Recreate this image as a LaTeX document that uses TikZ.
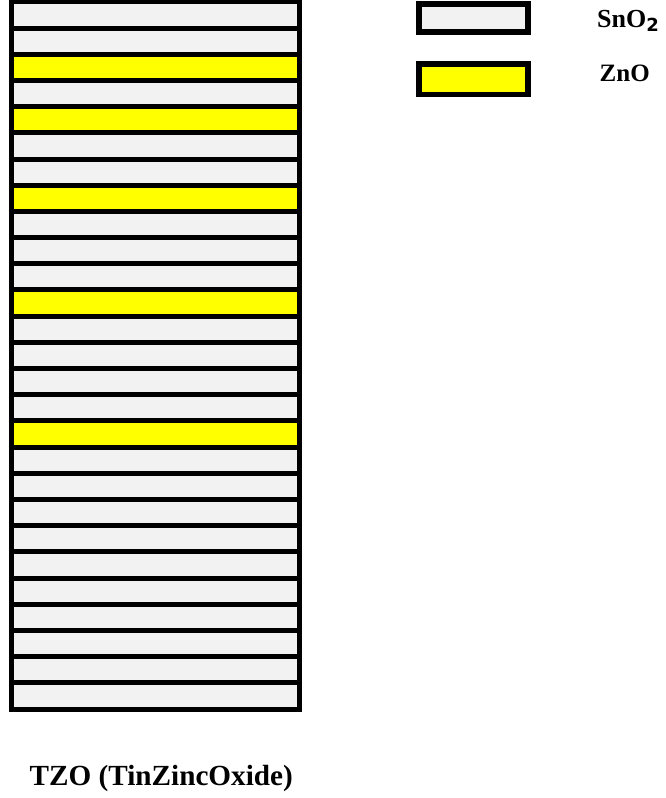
\documentclass[tikz,border=0pt]{standalone}
\usepackage{fontspec}
\setmainfont{Liberation Serif}
\newfontfamily\subfont{DejaVu Sans}
\usepackage{tikz}
\usetikzlibrary{positioning}
\definecolor{snogray}{RGB}{242,242,242}
\definecolor{znoyellow}{RGB}{255,255,0}
\tikzset{
  layer/.style = {rectangle, draw=black, line width=5pt, inner sep=0pt, outer sep=0pt, minimum width=287.6pt, minimum height=26.19pt},
  key/.style   = {rectangle, draw=black, line width=5.5pt, inner sep=0pt, outer sep=0pt, minimum width=109pt},
  lbl/.style   = {inner sep=0pt, anchor=base west, font=\bfseries\fontsize{25}{30}\selectfont},
}
\begin{document}
\begin{tikzpicture}[x=1pt,y=-1pt]
  \useasboundingbox (0,0) rectangle (666,798);
  % the stack, top to bottom
  \node[layer, fill=snogray] (L1) at (155.5,15) {};
  \foreach \i in {2,...,27}{
    \pgfmathtruncatemacro{\p}{\i-1}
    \pgfmathtruncatemacro{\isz}{(\i==3)||(\i==5)||(\i==8)||(\i==12)||(\i==17)}
    \ifnum\isz=1 \def\c{znoyellow}\else\def\c{snogray}\fi
    \node[layer, fill=\c, below=0pt of L\p] (L\i) {};
  }
  % legend
  \node[key, fill=snogray, minimum height=28.3pt] (kSno) at (473.5,17.9) {};
  \node[key, fill=znoyellow, minimum height=30.5pt] (kZno) at (473.5,79.2) {};
  \node[lbl, font=\bfseries\fontsize{26}{30}\selectfont] (tSno) at (597,27.5) {SnO\raisebox{-4pt}{\subfont\bfseries\fontsize{18}{20}\selectfont 2}};
  \node[lbl] (tZno) at (599.5,81) {ZnO};
  \node[lbl, font=\bfseries\fontsize{29.2}{34}\selectfont] (title) at (29.5,785) {TZO (TinZincOxide)};
\end{tikzpicture}
\end{document}
